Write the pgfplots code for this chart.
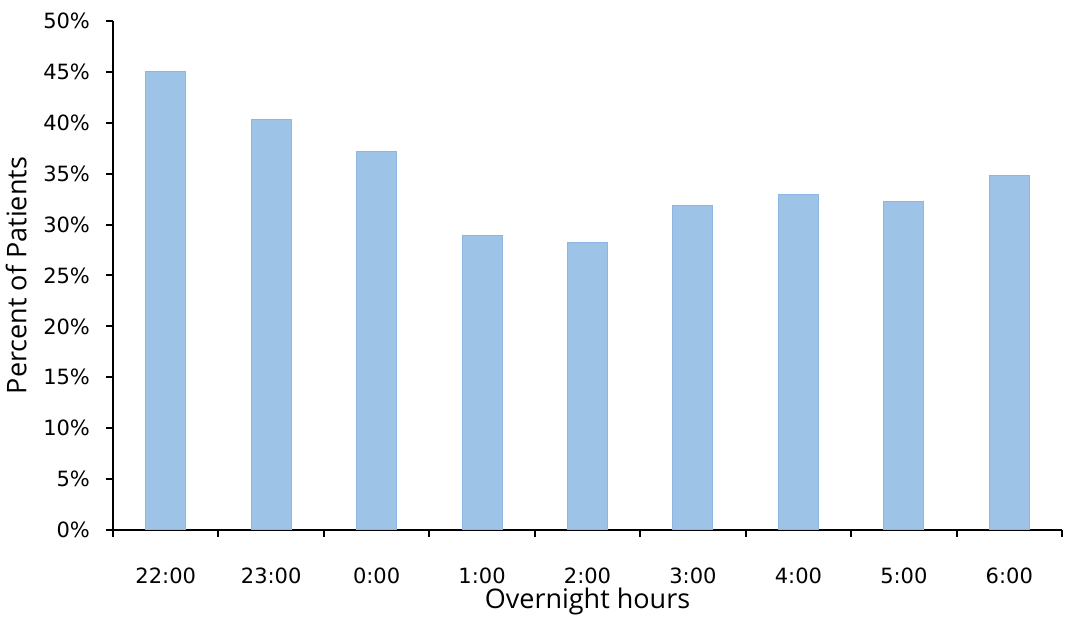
\documentclass[border=0pt]{standalone}
\usepackage{pgfplots}
\pgfplotsset{compat=1.18}
\usepackage{fontspec}
\setmainfont{Open Sans}
\newfontfamily\tickfont{DejaVu Sans}
\definecolor{barblue}{HTML}{9DC3E6}
\definecolor{baredge}{HTML}{8DB6E0}

\begin{document}
\begin{tikzpicture}
\begin{axis}[
    scale only axis,
    width=474.5pt, height=254.5pt,
    ybar, bar width=20pt,
    xmin=-0.5, xmax=8.5,
    ymin=0, ymax=50,
    ytick={0,5,...,50},
    xtick={0,...,8},
    xticklabels={22:00,23:00,0:00,1:00,2:00,3:00,4:00,5:00,6:00},
    minor xtick={-0.5,0.5,...,8.5},
    axis x line*=bottom, axis y line*=left,
    axis line style={line width=1pt, -},
    tick style={black, line width=1pt},
    tick align=outside,
    major tick length=3.5pt,
    minor tick length=3.5pt,
    major x tick style={draw=none},
    /pgf/number format/assume math mode=true,
    yticklabel={\pgfmathprintnumber{\tick}\%},
    tick label style={font=\tickfont\fontsize{10.5}{12}\selectfont},
    yticklabel style={xshift=-4.5pt},
    xticklabel style={yshift=-12pt},
    xlabel={Overnight hours},
    ylabel={Percent of Patients},
    label style={font=\fontsize{13.5}{15}\selectfont},
    xlabel style={yshift=5pt},
    ylabel style={yshift=1.5pt},
]
\addplot[fill=barblue, draw=baredge, line width=0.5pt] coordinates {
    (0,45.0) (1,40.3) (2,37.2) (3,28.9) (4,28.2)
    (5,31.9) (6,33.0) (7,32.3) (8,34.8)
};
\coordinate (bl) at (axis cs:-0.5,0);
\coordinate (tr) at (axis cs:8.5,50);
\end{axis}
\pgfresetboundingbox
\path ([shift={(-56.5pt,-44pt)}]bl) rectangle ([shift={(11pt,10.5pt)}]tr);
\end{tikzpicture}
\end{document}
